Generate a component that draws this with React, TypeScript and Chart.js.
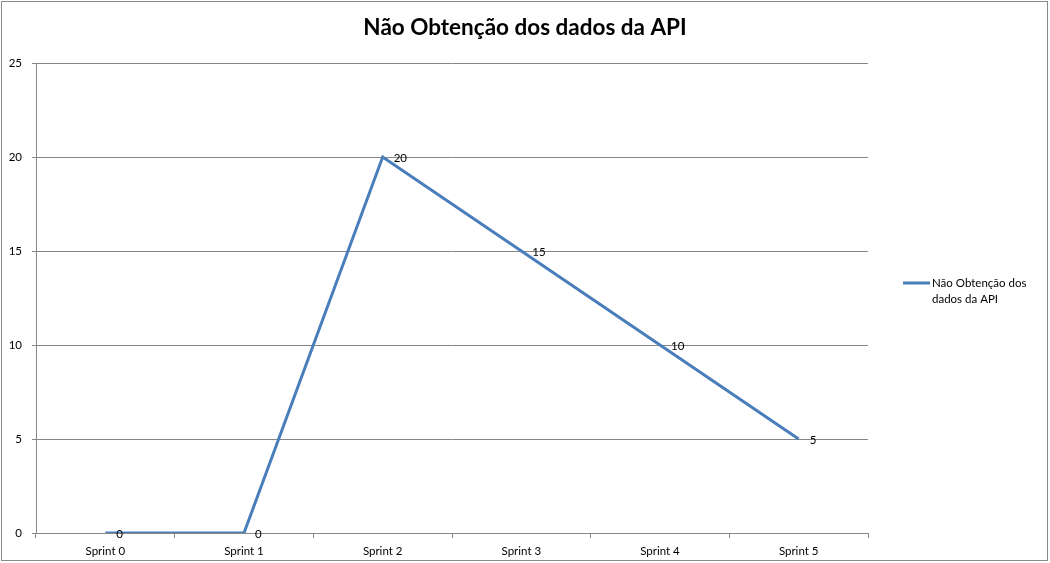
import React, { useEffect, useRef } from "react";
import { Chart, registerables } from "chart.js";

Chart.register(...registerables);

const title = "Não Obtenção dos dados da API";
const categories = ["Sprint 0", "Sprint 1", "Sprint 2", "Sprint 3", "Sprint 4", "Sprint 5"];
const seriesName = "Não Obtenção dos dados da API";
const seriesLegendLines = ["Não Obtenção dos", "dados da API"];
const values = [0, 0, 20, 15, 10, 5];

const LINE_COLOR = "#4A7EBB";
const GRID_COLOR = "#868686";
const FONT = "Lato, 'Open Sans', sans-serif";

const decorPlugin = {
  id: "decor",
  afterDraw(chart: any) {
    const ctx = chart.ctx;
    ctx.save();
    // outer border
    ctx.strokeStyle = "#8a8a8a";
    ctx.lineWidth = 1;
    ctx.strokeRect(1.5, 1.5, 1046, 559);
    // title
    ctx.fillStyle = "#000";
    ctx.font = "bold 22.5px " + FONT;
    ctx.textAlign = "center";
    ctx.textBaseline = "middle";
    ctx.fillText(title, 525, 28);
    // data labels
    const meta = chart.getDatasetMeta(0);
    ctx.font = "11.5px " + FONT;
    ctx.textAlign = "left";
    meta.data.forEach((pt: any, i: number) => {
      ctx.fillText(String(values[i]), pt.x + 11, pt.y + 1.5);
    });
    // legend
    ctx.strokeStyle = LINE_COLOR;
    ctx.lineWidth = 3;
    ctx.beginPath();
    ctx.moveTo(903, 283);
    ctx.lineTo(930, 283);
    ctx.stroke();
    ctx.fillStyle = "#000";
    ctx.font = "11.5px " + FONT;
    seriesLegendLines.forEach((t, i) => ctx.fillText(t, 932, 283 + i * 16));
    ctx.restore();
  },
};

export default function App() {
  const ref = useRef<HTMLCanvasElement>(null);
  useEffect(() => {
    const chart = new Chart(ref.current as HTMLCanvasElement, {
      type: "line",
      data: {
        labels: categories,
        datasets: [
          {
            label: seriesName,
            data: values,
            borderColor: LINE_COLOR,
            backgroundColor: LINE_COLOR,
            borderWidth: 3,
            pointRadius: 0,
            tension: 0,
          },
        ],
      },
      options: {
        responsive: false,
        animation: false,
        layout: { padding: { left: 1, top: 63, right: 182, bottom: 0 } },
        plugins: {
          legend: { display: false },
          title: { display: false },
          tooltip: { enabled: false },
        },
        scales: {
          x: {
            offset: true,
            grid: {
              offset: true,
              drawOnChartArea: false,
              drawTicks: true,
              tickLength: 5,
              color: GRID_COLOR,
            },
            border: { color: GRID_COLOR, width: 1 },
            ticks: { color: "#000", font: { family: FONT, size: 11.5 }, padding: 6, maxRotation: 0 },
            afterFit(scale: any) {
              scale.height = 30;
            },
          },
          y: {
            min: 0,
            max: 25,
            ticks: { stepSize: 5, color: "#000", font: { family: FONT, size: 11.5 }, padding: 10 },
            grid: { color: GRID_COLOR, tickLength: 4 },
            border: { color: GRID_COLOR, width: 1 },
            afterFit(scale: any) {
              scale.width = 35;
            },
          },
        },
      },
      plugins: [decorPlugin],
    });
    return () => chart.destroy();
  }, []);
  return (
    <div style={{ position: "absolute", left: 0, top: 0, width: 1050, height: 563, background: "#fff" }}>
      <canvas ref={ref} width={1050} height={563} />
    </div>
  );
}
